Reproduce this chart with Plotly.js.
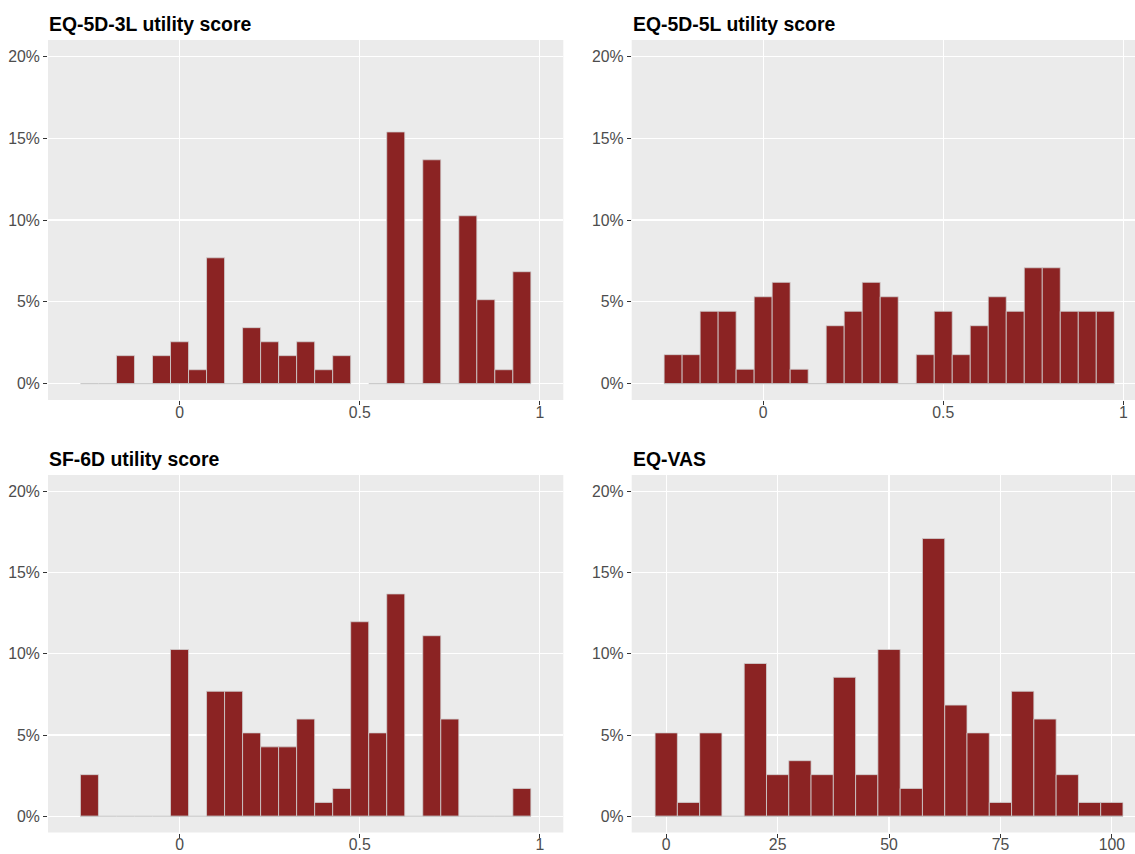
<!DOCTYPE html>
<html>
<head>
<meta charset="utf-8">
<script src="https://cdn.plot.ly/plotly-3.0.1.min.js"></script>
<style>
html,body{margin:0;padding:0;background:#fff;}
#chart{width:1135px;height:854px;}
</style>
</head>
<body>
<div id="chart"></div>
<script>
// ---- data (percent of respondents per bin) ----
const panelTitles = ["EQ-5D-3L utility score", "EQ-5D-5L utility score", "SF-6D utility score", "EQ-VAS"];

const utilityBinCenters = [-0.25,-0.2,-0.15,-0.1,-0.05,0,0.05,0.1,0.15,0.2,0.25,0.3,0.35,0.4,0.45,0.5,0.55,0.6,0.65,0.7,0.75,0.8,0.85,0.9,0.95];
const utilityBinWidth = 0.05;

const eq5d3lPct = [0,0,1.71,0,1.71,2.56,0.85,7.69,0,3.42,2.56,1.71,2.56,0.85,1.71,null,0,15.38,0,13.68,0,10.26,5.13,0.85,6.84];
const eq5d5lPct = [1.77,1.77,4.42,4.42,0.88,5.31,6.19,0.88,0,3.54,4.42,6.19,5.31,0,1.77,4.42,1.77,3.54,5.31,4.42,7.08,7.08,4.42,4.42,4.42];
const sf6dPct   = [2.56,0,0,0,0,10.26,0,7.69,7.69,5.13,4.27,4.27,5.98,0.85,1.71,11.97,5.13,13.68,0,11.11,5.98,0,0,0,1.71];

const vasBinCenters = [0,5,10,15,20,25,30,35,40,45,50,55,60,65,70,75,80,85,90,95,100];
const vasBinWidth = 5;
const eqVasPct = [5.13,0.85,5.13,0,9.40,2.56,3.42,2.56,8.55,2.56,10.26,1.71,17.09,6.84,5.13,0.85,7.69,5.98,2.56,0.85,0.85];

const utilityTickVals = [0, 0.5, 1];
const utilityTickText = ["0", "0.5", "1"];
const vasTickVals = [0, 25, 50, 75, 100];
const vasTickText = ["0", "25", "50", "75", "100"];
const yTickVals = [0, 5, 10, 15, 20];
const yTickText = ["0%", "5%", "10%", "15%", "20%"];

// ---- styling ----
const W = 1135, H = 854;
const barFill = "#8B2323";
const barEdge = "#d2d2d2";
const baseColor = "#bdbdbd";

function barTrace(centers, vals, width, ax) {
  const xs = [], ys = [];
  centers.forEach((c, i) => { if (vals[i] !== null && vals[i] > 0) { xs.push(c); ys.push(vals[i]); } });
  return {
    type: "bar", x: xs, y: ys, width: width,
    xaxis: "x" + ax, yaxis: "y" + ax,
    marker: { color: barFill, line: { color: barEdge, width: 0.8 } },
    hoverinfo: "x+y", showlegend: false
  };
}
function baseTrace(centers, vals, width, ax) {
  const xs = [], ys = [];
  centers.forEach((c, i) => {
    if (vals[i] !== null) { xs.push(c - width / 2, c + width / 2, null); ys.push(0, 0, null); }
  });
  return {
    type: "scatter", mode: "lines", x: xs, y: ys,
    xaxis: "x" + ax, yaxis: "y" + ax,
    line: { color: baseColor, width: 0.9 },
    hoverinfo: "skip", showlegend: false, connectgaps: false
  };
}

const data = [
  baseTrace(utilityBinCenters, eq5d3lPct, utilityBinWidth, ""),
  barTrace(utilityBinCenters, eq5d3lPct, utilityBinWidth, ""),
  baseTrace(utilityBinCenters, eq5d5lPct, utilityBinWidth, "2"),
  barTrace(utilityBinCenters, eq5d5lPct, utilityBinWidth, "2"),
  baseTrace(utilityBinCenters, sf6dPct, utilityBinWidth, "3"),
  barTrace(utilityBinCenters, sf6dPct, utilityBinWidth, "3"),
  baseTrace(vasBinCenters, eqVasPct, vasBinWidth, "4"),
  barTrace(vasBinCenters, eqVasPct, vasBinWidth, "4")
];
data[0].xaxis = "x"; data[0].yaxis = "y"; data[1].xaxis = "x"; data[1].yaxis = "y";

const tickFont = { family: "Liberation Sans, Arial, sans-serif", size: 15.8, color: "#4D4D4D" };

function xAxis(domain, range, vals, text, anchor) {
  return {
    domain: domain, range: range, anchor: anchor,
    tickvals: vals, ticktext: text,
    ticks: "outside", ticklen: 4, tickwidth: 1, tickcolor: "#333333",
    ticklabelstandoff: -6,
    showgrid: true, gridcolor: "#FFFFFF", gridwidth: 1.1,
    zeroline: false, showline: false, tickfont: tickFont, fixedrange: true
  };
}
function yAxis(domain, anchor) {
  return {
    domain: domain, range: [-1, 21], anchor: anchor,
    tickvals: yTickVals, ticktext: yTickText,
    ticks: "outside", ticklen: 4, tickwidth: 1, tickcolor: "#333333",
    showgrid: true, gridcolor: "#FFFFFF", gridwidth: 1.1,
    zeroline: false, showline: false, tickfont: tickFont, fixedrange: true
  };
}

const leftDom = [48 / W, 563.3 / W];
const rightDom = [631.7 / W, 1];
const topDom = [1 - 400 / H, 1 - 40 / H];
const botDom = [1 - 832.5 / H, 1 - 475 / H];

const titleFont = { family: "Liberation Sans, Arial, sans-serif", size: 19.4, color: "#000000", weight: "bold" };
function title(text, x, yPix) {
  return { text: "<b>" + text + "</b>", xref: "paper", yref: "paper", x: x, y: 1 - yPix / H,
    xanchor: "left", yanchor: "middle", showarrow: false, font: titleFont };
}

const layout = {
  width: W, height: H,
  margin: { l: 0, r: 0, t: 0, b: 0, pad: 0 },
  paper_bgcolor: "#FFFFFF", plot_bgcolor: "#EBEBEB",
  bargap: 0, barmode: "overlay",
  xaxis:  xAxis(leftDom,  [-0.365, 1.065], utilityTickVals, utilityTickText, "y"),
  yaxis:  yAxis(topDom, "x"),
  xaxis2: xAxis(rightDom, [-0.365, 1.0325], utilityTickVals, utilityTickText, "y2"),
  yaxis2: yAxis(topDom, "x2"),
  xaxis3: xAxis(leftDom,  [-0.365, 1.065], utilityTickVals, utilityTickText, "y3"),
  yaxis3: yAxis(botDom, "x3"),
  xaxis4: xAxis(rightDom, [-7.75, 105.2], vasTickVals, vasTickText, "y4"),
  yaxis4: yAxis(botDom, "x4"),
  annotations: [
    title(panelTitles[0], 47 / W, 24),
    title(panelTitles[1], 631 / W, 24),
    title(panelTitles[2], 47 / W, 459),
    title(panelTitles[3], 631 / W, 459)
  ]
};

Plotly.newPlot("chart", data, layout, { staticPlot: true, displayModeBar: false });
</script>
</body>
</html>
